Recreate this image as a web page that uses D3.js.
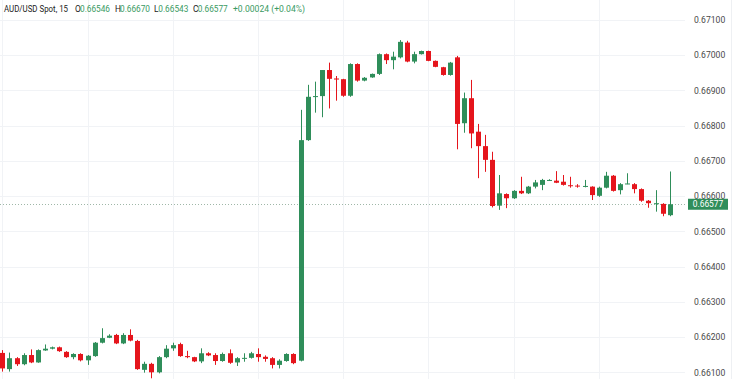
<!DOCTYPE html>
<html>
<head>
<meta charset="utf-8">
<script src="https://cdn.jsdelivr.net/npm/d3@7"></script>
<style>
  html, body { margin: 0; padding: 0; background: #ffffff; }
  svg { display: block; }
</style>
</head>
<body>
<svg id="chart" width="735" height="379"></svg>
<script>
// ---- Data (AUD/USD Spot, 15-minute candles) ----
const opens = [
0.66155,0.66109,0.66140,0.66123,0.66149,0.66128,0.66162,0.66167,0.66171,0.66158,
0.66143,0.66152,0.66134,0.66146,0.66184,0.66198,0.66206,0.66182,0.66206,0.66189,
0.66107,0.66124,0.66100,0.66143,0.66168,0.66180,0.66146,0.66143,0.66131,0.66154,
0.66149,0.66132,0.66154,0.66128,0.66139,0.66141,0.66152,0.66144,0.66140,0.66121,
0.66132,0.66152,0.66133,0.66759,0.66882,0.66884,0.66958,0.66934,0.66932,0.66885,
0.66975,0.66928,0.66937,0.66947,0.67003,0.66986,0.66994,0.67036,0.66982,0.67003,
0.67012,0.66984,0.66966,0.66944,0.66994,0.66807,0.66878,0.66783,0.66742,0.66703,
0.66573,0.66606,0.66594,0.66615,0.66608,0.66627,0.66632,0.66645,0.66644,0.66641,
0.66631,0.66630,0.66628,0.66627,0.66601,0.66624,0.66658,0.66617,0.66635,0.66634,
0.66620,0.66587,0.66579,0.66578,0.66546];
const highs = [
0.66163,0.66156,0.66143,0.66154,0.66165,0.66165,0.66179,0.66173,0.66173,0.66160,
0.66154,0.66154,0.66149,0.66186,0.66225,0.66208,0.66209,0.66211,0.66222,0.66192,
0.66130,0.66127,0.66146,0.66177,0.66184,0.66184,0.66161,0.66144,0.66168,0.66157,
0.66154,0.66156,0.66165,0.66143,0.66154,0.66158,0.66168,0.66148,0.66143,0.66137,
0.66154,0.66154,0.66845,0.66916,0.66925,0.66958,0.66979,0.66941,0.66933,0.66977,
0.66977,0.66938,0.66948,0.67005,0.67005,0.67010,0.67043,0.67041,0.67010,0.67013,
0.67013,0.66985,0.66967,0.66981,0.66998,0.66894,0.66930,0.66805,0.66774,0.66726,
0.66660,0.66608,0.66617,0.66655,0.66629,0.66646,0.66649,0.66648,0.66671,0.66660,
0.66655,0.66634,0.66646,0.66628,0.66627,0.66669,0.66660,0.66637,0.66665,0.66637,
0.66622,0.66589,0.66617,0.66580,0.66670];
const lows = [
0.66102,0.66102,0.66118,0.66120,0.66126,0.66127,0.66161,0.66165,0.66158,0.66141,
0.66137,0.66131,0.66121,0.66144,0.66182,0.66197,0.66180,0.66180,0.66188,0.66107,
0.66099,0.66083,0.66097,0.66140,0.66161,0.66144,0.66140,0.66129,0.66126,0.66146,
0.66121,0.66130,0.66124,0.66118,0.66130,0.66139,0.66130,0.66130,0.66111,0.66111,
0.66130,0.66123,0.66131,0.66757,0.66837,0.66824,0.66849,0.66871,0.66882,0.66882,
0.66925,0.66926,0.66936,0.66944,0.66975,0.66960,0.66991,0.66980,0.66977,0.67002,
0.66983,0.66966,0.66942,0.66942,0.66733,0.66780,0.66736,0.66651,0.66669,0.66568,
0.66561,0.66566,0.66592,0.66606,0.66606,0.66622,0.66617,0.66643,0.66637,0.66630,
0.66624,0.66624,0.66625,0.66589,0.66598,0.66622,0.66613,0.66605,0.66634,0.66608,
0.66584,0.66567,0.66556,0.66543,0.66543];
const closes = [
0.66111,0.66140,0.66123,0.66149,0.66128,0.66163,0.66167,0.66171,0.66160,0.66143,
0.66152,0.66134,0.66147,0.66184,0.66197,0.66204,0.66182,0.66206,0.66190,0.66109,
0.66124,0.66100,0.66143,0.66167,0.66177,0.66146,0.66143,0.66131,0.66154,0.66148,
0.66132,0.66152,0.66127,0.66140,0.66141,0.66154,0.66143,0.66138,0.66121,0.66133,
0.66152,0.66126,0.66759,0.66882,0.66884,0.66958,0.66933,0.66931,0.66885,0.66975,
0.66928,0.66936,0.66947,0.67003,0.66986,0.66996,0.67038,0.66982,0.67003,0.67012,
0.66984,0.66967,0.66944,0.66979,0.66805,0.66878,0.66778,0.66742,0.66703,0.66572,
0.66608,0.66594,0.66615,0.66608,0.66627,0.66639,0.66646,0.66646,0.66638,0.66632,
0.66629,0.66628,0.66629,0.66603,0.66624,0.66658,0.66615,0.66634,0.66636,0.66620,
0.66587,0.66580,0.66580,0.66550,0.66577];

const yTicks = [0.661,0.662,0.663,0.664,0.665,0.666,0.667,0.668,0.669,0.670,0.671];
const vGridIndices = [0,12,24,36,48,60,72,84];
const symbolTitle = "AUD/USD Spot, 15";
const ohlcLetters = ["O","H","L","C"];
const ohlcValues = ["0.66546","0.66670","0.66543","0.66577"];
const changeText = "+0.00024 (+0.04%)";
const lastPrice = 0.66577;

// ---- Styles ----
const GREEN = "#2f8e5a";
const RED = "#e5151c";
const GRID = "#f1f3f6";
const TEXT = "#4a4a4a";
const FONT = "Roboto, 'Liberation Sans', sans-serif";

const svg = d3.select("#chart");
const W = 735, H = 379;
const plotRight = 685;

const idx = d3.range(opens.length);
const x = d3.scaleLinear().domain([0, opens.length - 1]).range([2.3, 669.7]);
const y = d3.scaleLinear().domain([0.661, 0.671]).range([372.3, 20]);

// gridlines
svg.append("g").selectAll("line.h").data(yTicks).join("line")
  .attr("x1", 0).attr("x2", plotRight)
  .attr("y1", d => Math.round(y(d)) + 0.5).attr("y2", d => Math.round(y(d)) + 0.5)
  .attr("stroke", GRID).attr("stroke-width", 1);
svg.append("g").selectAll("line.v").data(vGridIndices).join("line")
  .attr("x1", d => Math.round(x(d)) + 0.5).attr("x2", d => Math.round(x(d)) + 0.5)
  .attr("y1", 0).attr("y2", H)
  .attr("stroke", GRID).attr("stroke-width", 1);
// right border
svg.append("line").attr("x1", 731.5).attr("x2", 731.5).attr("y1", 0).attr("y2", H)
  .attr("stroke", "#eef0f3");

// last price dotted line
svg.append("line")
  .attr("x1", 0).attr("x2", plotRight)
  .attr("y1", Math.round(y(lastPrice)) + 0.5).attr("y2", Math.round(y(lastPrice)) + 0.5)
  .attr("stroke", "#9fb7a8").attr("stroke-width", 1).attr("stroke-dasharray", "1,2");

// candles
const bodyW = 5;
const candles = svg.append("g").selectAll("g").data(idx).join("g");
const col = i => closes[i] >= opens[i] ? GREEN : RED;
candles.append("line")
  .attr("x1", i => Math.round(x(i)) + 0.5).attr("x2", i => Math.round(x(i)) + 0.5)
  .attr("y1", i => y(highs[i])).attr("y2", i => y(lows[i]))
  .attr("stroke", col).attr("stroke-width", 1);
candles.append("rect")
  .attr("x", i => Math.round(x(i)) + 0.5 - bodyW / 2)
  .attr("width", bodyW)
  .attr("y", i => y(Math.max(opens[i], closes[i])))
  .attr("height", i => Math.max(1, Math.abs(y(opens[i]) - y(closes[i]))))
  .attr("fill", col);

// right axis
const axis = d3.axisRight(y).tickValues(yTicks).tickFormat(d3.format(".5f")).tickSize(0).tickPadding(0);
const ag = svg.append("g").attr("transform", "translate(694,0)").call(axis);
ag.select(".domain").remove();
ag.selectAll("text").attr("font-family", FONT).attr("font-size", 8.6).attr("fill", TEXT);

// last price label
const ly = y(lastPrice);
svg.append("rect").attr("x", 688).attr("y", ly - 5.5).attr("width", 40).attr("height", 11).attr("fill", GREEN);
svg.append("text").attr("x", 708).attr("y", ly + 0.3).attr("dy", "0.35em").attr("text-anchor", "middle")
  .attr("font-family", FONT).attr("font-size", 8.4).attr("fill", "#ffffff").text(lastPrice.toFixed(5));

// header (pieces placed at the reference's positions)
const headG = svg.append("g").attr("font-family", FONT).attr("font-size", 8.4);
headG.append("text").attr("x", 4).attr("y", 11.5).attr("fill", "#222")
  .attr("textLength", 64).attr("lengthAdjust", "spacingAndGlyphs").text(symbolTitle);
const letterX = [75, 115, 154, 193];
const valueX = [80, 120, 158.3, 197.7];
ohlcLetters.forEach((l, k) => {
  headG.append("text").attr("x", letterX[k]).attr("y", 11.5).attr("fill", "#222").text(l);
  headG.append("text").attr("x", valueX[k]).attr("y", 11.5).attr("fill", "#3a9a62")
    .attr("textLength", 30).attr("lengthAdjust", "spacingAndGlyphs").text(ohlcValues[k]);
});
headG.append("text").attr("x", 233).attr("y", 11.5).attr("fill", "#3a9a62")
  .attr("textLength", 72).attr("lengthAdjust", "spacingAndGlyphs").text(changeText);
</script>
</body>
</html>
